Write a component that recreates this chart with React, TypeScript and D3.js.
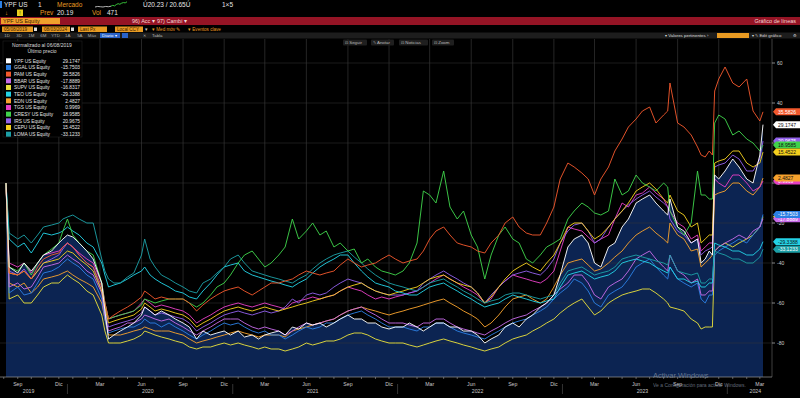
import React from 'react';
import * as d3 from 'd3';

const W = 800;
const H = 398;

// fechas comunes a todas las series (normalizado al 06/08/2019)
const dates = [
  '2019-08-06', '2019-08-13', '2019-09-01', '2019-09-15', '2019-10-01', '2019-10-15', '2019-10-28', '2019-11-15', '2019-12-01', '2019-12-10', '2019-12-20',
  '2020-01-01', '2020-01-15', '2020-02-01', '2020-02-15', '2020-03-05', '2020-03-12', '2020-03-20', '2020-04-01', '2020-04-15', '2020-05-01',
  '2020-05-15', '2020-06-01', '2020-06-08', '2020-06-20', '2020-07-01', '2020-07-15', '2020-08-01', '2020-08-15', '2020-09-01', '2020-09-15',
  '2020-10-01', '2020-10-15', '2020-11-01', '2020-11-15', '2020-12-01', '2020-12-15',
  '2021-01-01', '2021-01-15', '2021-02-01', '2021-02-15', '2021-03-01', '2021-03-15', '2021-04-01', '2021-04-15', '2021-05-01', '2021-05-15',
  '2021-06-01', '2021-06-15', '2021-07-01', '2021-07-15', '2021-08-01', '2021-08-15', '2021-09-01', '2021-09-15', '2021-10-01', '2021-10-15',
  '2021-11-01', '2021-11-15', '2021-12-01', '2021-12-15',
  '2022-01-01', '2022-01-15', '2022-02-01', '2022-02-15', '2022-03-01', '2022-03-15', '2022-04-01', '2022-04-15', '2022-05-01', '2022-05-15',
  '2022-06-01', '2022-06-15', '2022-07-01', '2022-07-15', '2022-08-01', '2022-08-15', '2022-09-01', '2022-09-15', '2022-10-01', '2022-10-15',
  '2022-11-01', '2022-11-15', '2022-12-01', '2022-12-15',
  '2023-01-01', '2023-01-15', '2023-02-01', '2023-02-15', '2023-03-01', '2023-03-15', '2023-04-01', '2023-04-15', '2023-05-01', '2023-05-15',
  '2023-06-01', '2023-06-15', '2023-07-01', '2023-07-15', '2023-08-01', '2023-08-10', '2023-08-15', '2023-09-01', '2023-09-15', '2023-10-01',
  '2023-10-15', '2023-10-23', '2023-11-01', '2023-11-10', '2023-11-17', '2023-11-22', '2023-12-01', '2023-12-15',
  '2024-01-01', '2024-01-15', '2024-02-01', '2024-02-15', '2024-03-01', '2024-03-08'
];

// una fila por año: 2019 (11), 2020 (26), 2021 (24), 2022 (24), 2023 (28), 2024 (6)
const ypf = [
  0, -42, -45, -40, -44, -40, -36, -34, -30, -28, -26,
  -27, -30, -34, -38, -50, -64, -78, -76, -74, -72, -70, -66, -62, -64, -66, -64, -66, -68, -70, -72, -78, -74, -76, -75, -74, -76,
  -74, -77, -76, -78, -76, -75, -74, -76, -72, -73, -70, -71, -70, -72, -70, -68, -66, -68, -68, -70, -70, -72, -73, -72,
  -72, -70, -72, -74, -72, -70, -70, -72, -72, -74, -74, -76, -80, -78, -76, -72, -70, -72, -68, -66, -62, -60, -56, -46,
  -32, -28, -26, -30, -40, -42, -32, -30, -22, -18, -10, -8, -6, -10, -14, -16, -8, -22, -24, -30, -28, -40, -38, -34, -36, 4, 2, 6,
  12, 8, 2, 0, 14, 29.1747
];
const ggal = [
  0, -55, -52, -56, -55, -50, -45, -44, -42, -40, -38,
  -40, -42, -46, -48, -58, -68, -75, -74, -73, -72, -72, -70, -68, -70, -70, -72, -70, -72, -74, -76, -78, -76, -74, -72, -70, -71,
  -70, -72, -74, -75, -74, -76, -76, -78, -76, -74, -72, -73, -72, -70, -70, -68, -66, -65, -64, -66, -68, -70, -72, -72,
  -72, -73, -74, -72, -72, -70, -70, -72, -74, -75, -76, -77, -78, -76, -74, -72, -70, -69, -68, -66, -64, -62, -58, -55,
  -52, -48, -50, -54, -60, -62, -56, -54, -52, -48, -42, -40, -38, -42, -46, -48, -42, -48, -50, -52, -50, -58, -60, -56, -56, -36, -34, -32,
  -30, -28, -30, -26, -22, -15.7503
];
const pam = [
  0, -45, -46, -44, -48, -42, -38, -36, -35, -32, -30,
  -32, -36, -40, -42, -52, -60, -68, -66, -64, -62, -60, -57, -54, -56, -58, -57, -58, -58, -58, -60, -64, -61, -58, -56, -54, -53,
  -52, -54, -56, -54, -52, -50, -50, -49, -48, -46, -44, -45, -46, -45, -44, -41, -38, -40, -42, -41, -40, -38, -36, -38,
  -40, -39, -38, -34, -28, -24, -22, -26, -30, -31, -32, -34, -35, -30, -26, -20, -17, -22, -25, -26, -26, -20, -12, 2,
  10, 8, 5, 2, -6, 2, 8, 16, 22, 28, 32, 36, 38, 30, 34, 36, 50, 30, 28, 24, 18, 14, 13, 16, 14, 46, 52, 58,
  50, 48, 52, 36, 31, 35.5826
];
const bbar = [
  0, -52, -50, -53, -52, -47, -42, -41, -40, -38, -36,
  -38, -40, -44, -46, -55, -66, -74, -73, -72, -70, -70, -68, -66, -67, -68, -69, -68, -70, -72, -74, -76, -74, -72, -70, -68, -68,
  -68, -70, -72, -73, -72, -73, -74, -76, -74, -72, -70, -71, -70, -69, -68, -66, -64, -63, -62, -64, -66, -68, -70, -70,
  -70, -71, -72, -70, -70, -68, -68, -70, -72, -73, -74, -75, -76, -74, -72, -70, -68, -67, -66, -64, -62, -60, -56, -53,
  -50, -46, -46, -50, -56, -58, -52, -50, -48, -44, -38, -36, -34, -38, -42, -44, -36, -44, -46, -50, -48, -56, -56, -54, -54, -34, -32, -30,
  -28, -26, -28, -24, -22, -17.8889
];
const supv = [
  0, -58, -56, -60, -60, -56, -52, -50, -50, -48, -46,
  -48, -50, -54, -56, -66, -74, -80, -80, -80, -79, -78, -76, -74, -75, -76, -77, -78, -79, -80, -82, -83, -82, -82, -81, -80, -81,
  -80, -81, -82, -83, -82, -83, -83, -84, -83, -82, -80, -81, -80, -79, -79, -78, -76, -75, -75, -76, -78, -79, -80, -80,
  -80, -81, -82, -81, -80, -79, -78, -79, -80, -81, -82, -83, -84, -83, -82, -80, -78, -77, -76, -74, -72, -70, -68, -65,
  -62, -60, -58, -62, -66, -64, -60, -58, -56, -55, -54, -53, -53, -55, -58, -60, -62, -63, -64, -68, -70, -73, -72, -72, -72, -34, -32, -30,
  -32, -30, -28, -26, -22, -16.8317
];
const teo = [
  0, -28, -32, -30, -35, -30, -25, -26, -25, -24, -22,
  -24, -26, -30, -32, -40, -46, -52, -51, -50, -48, -46, -44, -42, -46, -48, -50, -52, -54, -55, -57, -58, -54, -50, -46, -42, -41,
  -40, -44, -46, -47, -48, -49, -50, -51, -52, -50, -48, -45, -42, -40, -38, -36, -36, -40, -44, -47, -50, -51, -52, -54,
  -55, -56, -56, -54, -52, -51, -50, -52, -54, -56, -58, -60, -62, -61, -60, -58, -56, -57, -58, -59, -60, -59, -58, -52,
  -46, -45, -44, -46, -48, -47, -46, -44, -40, -39, -38, -39, -40, -42, -44, -45, -42, -48, -48, -50, -49, -52, -52, -50, -50, -30, -31, -32,
  -34, -34, -36, -36, -33, -29.3388
];
const edn = [
  0, -50, -52, -50, -55, -52, -48, -47, -46, -45, -44,
  -46, -48, -50, -52, -60, -68, -76, -76, -76, -75, -74, -73, -72, -73, -74, -74, -74, -75, -76, -78, -80, -79, -78, -77, -76, -75,
  -74, -75, -76, -77, -76, -76, -76, -77, -74, -73, -72, -71, -70, -69, -68, -66, -64, -63, -62, -63, -64, -65, -66, -65,
  -64, -63, -62, -61, -60, -59, -58, -60, -62, -64, -66, -68, -72, -70, -66, -62, -58, -57, -56, -58, -60, -58, -52, -46,
  -40, -39, -38, -41, -44, -43, -40, -37, -34, -30, -26, -24, -22, -25, -28, -30, -20, -26, -28, -34, -33, -42, -40, -38, -36, -6, -5, -4,
  0, 0, -4, -6, -2, 2.4827
];
const tgs = [
  0, -40, -42, -40, -45, -40, -36, -35, -34, -32, -30,
  -32, -35, -38, -40, -50, -60, -68, -67, -66, -65, -64, -60, -58, -60, -62, -61, -62, -63, -64, -66, -70, -68, -66, -64, -62, -61,
  -60, -61, -62, -61, -60, -61, -62, -63, -60, -59, -58, -57, -58, -57, -56, -54, -52, -53, -54, -56, -58, -57, -58, -57,
  -56, -55, -54, -52, -50, -48, -46, -48, -50, -52, -54, -56, -60, -58, -52, -49, -46, -47, -48, -49, -50, -48, -44, -34,
  -22, -23, -24, -27, -30, -28, -26, -18, -10, -12, -6, -5, -2, -5, -8, -12, -14, -20, -22, -28, -26, -34, -32, -30, -30, 2, 0, -2,
  4, 4, 0, -4, -2, 0.9969
];
const cresy = [
  0, -42, -44, -40, -46, -40, -36, -33, -30, -24, -18,
  -26, -30, -34, -36, -50, -60, -68, -67, -66, -65, -64, -61, -58, -59, -60, -59, -58, -58, -58, -60, -62, -60, -56, -52, -50, -46,
  -40, -36, -34, -38, -42, -40, -36, -32, -18, -28, -24, -20, -26, -24, -32, -30, -34, -33, -40, -38, -42, -44, -45, -46,
  -44, -40, -30, -4, -6, -10, 6, -12, -18, -14, -26, -32, -48, -36, -26, -22, -28, -30, -38, -40, -36, -32, -30, -28,
  -18, -14, -10, -12, -15, -16, -14, 2, -6, -4, 4, 0, -2, -4, 0, -2, -14, -22, -26, -20, 6, -6, -6, -8, -8, 30, 34, 32,
  24, 26, 22, 20, 16, 18.9585
];
const irs = [
  0, -44, -46, -43, -48, -44, -40, -38, -36, -33, -30,
  -32, -36, -40, -42, -54, -63, -72, -71, -70, -69, -68, -65, -62, -64, -66, -65, -66, -67, -68, -70, -74, -72, -70, -68, -66, -65,
  -64, -65, -66, -65, -64, -65, -64, -62, -58, -60, -56, -55, -56, -55, -52, -50, -48, -49, -50, -52, -54, -55, -56, -56,
  -56, -55, -54, -50, -48, -46, -44, -46, -48, -50, -52, -55, -60, -56, -52, -49, -46, -45, -44, -45, -46, -43, -38, -30,
  -24, -21, -20, -24, -30, -28, -22, -18, -14, -11, -8, -6, -4, -7, -10, -12, -18, -24, -26, -30, -28, -36, -34, -33, -32, 8, 9, 10,
  14, 12, 6, 6, 12, 20.9675
];
const cepu = [
  0, -45, -46, -44, -48, -44, -40, -39, -38, -36, -34,
  -35, -38, -41, -44, -54, -62, -70, -69, -68, -67, -66, -63, -60, -62, -64, -63, -64, -65, -66, -68, -72, -70, -68, -66, -64, -63,
  -62, -63, -64, -63, -62, -63, -64, -63, -62, -61, -60, -59, -58, -57, -56, -54, -52, -51, -50, -52, -54, -55, -56, -55,
  -54, -53, -52, -50, -48, -47, -46, -48, -50, -51, -52, -55, -60, -57, -52, -48, -44, -42, -40, -42, -44, -40, -36, -30,
  -22, -20, -20, -24, -28, -26, -22, -18, -14, -10, -4, -2, 0, -3, -8, -10, -6, -14, -16, -22, -20, -30, -28, -26, -26, 10, 11, 12,
  16, 16, 10, 8, 10, 15.4522
];
const loma = [
  0, -25, -28, -26, -30, -26, -22, -21, -20, -18, -17,
  -16, -18, -20, -20, -38, -44, -48, -50, -50, -47, -45, -36, -28, -38, -42, -46, -48, -50, -52, -54, -55, -50, -48, -45, -42, -38,
  -36, -40, -44, -45, -46, -47, -48, -49, -50, -48, -46, -43, -40, -38, -36, -35, -34, -37, -40, -43, -46, -48, -50, -51,
  -52, -53, -54, -52, -50, -49, -48, -50, -52, -54, -56, -58, -60, -59, -58, -56, -55, -55, -56, -57, -58, -57, -56, -50,
  -44, -43, -42, -44, -46, -45, -44, -42, -38, -37, -36, -37, -38, -39, -40, -41, -36, -44, -45, -46, -45, -50, -50, -48, -48, -34, -35, -36,
  -38, -38, -40, -40, -37, -33.1233
];

const tickers = ['YPF', 'GGAL', 'PAM', 'BBAR', 'SUPV', 'TEO', 'EDN', 'TGS', 'CRESY', 'IRS', 'CEPU', 'LOMA'];
const lastPrices = ['29.1747', '-15.7503', '35.5826', '-17.8889', '-16.8317', '-29.3388', '2.4827', '0.9969', '18.9585', '20.9675', '15.4522', '-33.1233'];
const colors = ['#ffffff', '#2b7fe3', '#f2582c', '#c66ae8', '#e8e03c', '#23d2e6', '#f6a22d', '#e640c4', '#3fd24b', '#9160ea', '#f3cf1e', '#1c9fa6'];
const values = [ypf, ggal, pam, bbar, supv, teo, edn, tgs, cresy, irs, cepu, loma];
// orden de dibujo de las etiquetas del eje derecho (las primeras quedan tapadas)
const tagOrder = ['SUPV', 'BBAR', 'GGAL', 'TGS', 'EDN', 'IRS', 'CRESY', 'CEPU', 'YPF', 'PAM', 'TEO', 'LOMA'];
const darkText = ['YPF', 'SUPV', 'CEPU', 'CRESY', 'TEO', 'EDN'];

const yTicks = [60, 40, 20, 0, -20, -40, -60, -80];
const monthNames = ['Ene', 'Feb', 'Mar', 'Abr', 'May', 'Jun', 'Jul', 'Ago', 'Sep', 'Oct', 'Nov', 'Dic'];
const years = ['2019', '2020', '2021', '2022', '2023', '2024'];
const yearLabelDates = ['2019-09-25', '2020-06-15', '2021-06-15', '2022-06-15', '2023-06-15', '2024-02-20'];
const yearSepDates = ['2019-12-20', '2020-12-20', '2021-12-20', '2022-12-20', '2023-12-20'];
const rangeButtons = ['1D', '3D', '1M', '6M', 'YTD', '1A', '5A', 'Máx'];
const sparkWhite = [3.0, 3.2, 3.1, 3.0, 3.2, 3.1, 3.3];
const sparkGreen = [3.3, 3.6, 3.4, 3.9, 4.2, 4.0, 4.4, 4.6, 4.5, 4.9];

const FONT = '"Liberation Sans", Arial, sans-serif';
const parse = d3.timeParse('%Y-%m-%d');

export default function App() {
  const plot = { left: 0, right: 772, top: 39, bottom: 377 };
  const dts = dates.map(d => parse(d) as Date);

  const x = d3.scaleTime()
    .domain([parse('2019-08-06') as Date, parse('2024-03-08') as Date])
    .range([6, 763]);
  const y = d3.scaleLinear().domain([0, 40]).range([183, 103]);

  const line = d3.line<number>()
    .defined((v, i) => v != null && i < dts.length)
    .x((_, i) => x(dts[i]))
    .y(v => y(v));
  const area = d3.area<number>()
    .defined((v, i) => v != null && i < dts.length)
    .x((_, i) => x(dts[i]))
    .y0(plot.bottom)
    .y1(v => y(v));

  const months = d3.timeMonths(parse('2019-08-01') as Date, parse('2024-03-31') as Date);
  const quarters = months.filter(m => m.getMonth() % 3 === 2);

  const sx1 = d3.scaleLinear().domain([0, sparkWhite.length - 1]).range([95, 111]);
  const sx2 = d3.scaleLinear().domain([0, sparkGreen.length - 1]).range([111, 127]);
  const sy = d3.scaleLinear().domain([3, 5]).range([7, 1.5]);

  const rangeX = d3.scalePoint().domain(rangeButtons).range([7, 92]);

  const seriesOrder = [4, 6, 7, 1, 3, 9, 10, 5, 11, 8, 2, 0];

  return (
    <div style={{ position: 'absolute', left: 0, top: 0, width: W, height: H, background: '#000' }}>
      <svg width={W} height={H} style={{ display: 'block', fontFamily: FONT }}>
        <defs>
          <clipPath id="plotClip">
            <rect x={plot.left} y={plot.top} width={plot.right - plot.left} height={plot.bottom - plot.top} />
          </clipPath>
        </defs>
        <rect x={0} y={0} width={W} height={H} fill="#000" />

        {/* fila 1 */}
        <rect x={0} y={1} width={2} height={7} fill="#2b7fe3" />
        <text x={4} y={7} fontSize={6.5} fill="#e6e6e6">YPF US</text>
        <text x={38} y={7} fontSize={6.5} fill="#e6e6e6">1</text>
        <text x={57} y={7} fontSize={6.5} fill="#e89a22">Mercado</text>
        <path d={d3.line<number>().x((_, i) => sx1(i)).y(v => sy(v))(sparkWhite) || ''} fill="none" stroke="#ddd" strokeWidth={0.8} />
        <path d={d3.line<number>().x((_, i) => sx2(i)).y(v => sy(v))(sparkGreen) || ''} fill="none" stroke="#37c43a" strokeWidth={1} />
        <text x={143} y={7} fontSize={6.5} fill="#e6e6e6">Ú20.23 / 20.65Ú</text>
        <text x={222} y={7} fontSize={6.5} fill="#e6e6e6">1×5</text>

        {/* fila 2 */}
        <text x={5} y={15} fontSize={6} fill="#e89a22">↓</text>
        <rect x={17} y={9.5} width={6} height={6.5} fill="#e8d21e" />
        <text x={20} y={15} fontSize={5} fill="#222" textAnchor="middle">!</text>
        <text x={40} y={15} fontSize={6.5} fill="#e89a22">Prev</text>
        <text x={57} y={15} fontSize={6.5} fill="#e6e6e6">20.19</text>
        <text x={92} y={15} fontSize={6.5} fill="#e89a22">Vol</text>
        <text x={107} y={15} fontSize={6.5} fill="#e6e6e6">471</text>

        {/* barra roja */}
        <rect x={0} y={17} width={W} height={8} fill="#951425" />
        <rect x={1} y={18} width={59} height={6} fill="#f0a02c" />
        <text x={3} y={23} fontSize={5.5} fill="#3a2000">YPF US Equity</text>
        <text x={132} y={23} fontSize={5.5} fill="#f3d6d6">96) Acc ▾</text>
        <text x={157} y={23} fontSize={5.5} fill="#f3d6d6">97) Cambi ▾</text>
        <text x={796} y={23} fontSize={5.5} fill="#f3d6d6" textAnchor="end">Gráfico de líneas</text>

        {/* fila de opciones */}
        <rect x={2} y={26.5} width={31} height={5.5} fill="#e89a22" />
        <text x={4} y={31} fontSize={4.6} fill="#3a2000">05/08/2019</text>
        <rect x={34} y={27.5} width={3} height={3.5} fill="#ddd" />
        <rect x={42} y={26.5} width={28} height={5.5} fill="#e89a22" />
        <text x={44} y={31} fontSize={4.6} fill="#3a2000">08/03/2024</text>
        <rect x={71} y={27.5} width={3} height={3.5} fill="#ddd" />
        <rect x={78} y={26.5} width={29} height={5.5} fill="#e89a22" />
        <text x={80} y={31} fontSize={4.6} fill="#3a2000">Last Px</text>
        <rect x={115} y={26.5} width={28} height={5.5} fill="#e89a22" />
        <text x={117} y={31} fontSize={4.6} fill="#3a2000">Local CCY</text>
        <text x={145} y={31} fontSize={4.6} fill="#ccc">▾</text>
        <text x={152} y={31} fontSize={4.6} fill="#e89a22">▾ Med móv ✎</text>
        <text x={188} y={31} fontSize={4.6} fill="#e89a22">▾ Eventos clave</text>

        {/* barra gris */}
        <rect x={0} y={32.5} width={W} height={6} fill="#1d1d1d" />
        {rangeButtons.map(b => (
          <text key={b} x={rangeX(b)} y={37.3} fontSize={4.4} fill="#aaa" textAnchor="middle">{b}</text>
        ))}
        <rect x={100} y={33} width={20} height={5} fill="#2a63c8" />
        <text x={102} y={37.2} fontSize={4.4} fill="#fff">Diario ▾</text>
        <rect x={122} y={33} width={6} height={5} fill="#2a63c8" />
        <text x={143} y={37.3} fontSize={4.4} fill="#aaa">✕</text>
        <text x={152} y={37.3} fontSize={4.4} fill="#bbb">Tabla</text>
        <text x={665} y={37.3} fontSize={4.4} fill="#ddd">▾ Valores pertinentes ›</text>
        <rect x={717} y={33} width={32} height={5} fill="#e89a22" />
        <text x={752} y={37.3} fontSize={4.4} fill="#ddd">▾ ✎ Edit gráfico</text>
        <text x={793} y={37.3} fontSize={4.4} fill="#ddd">⚙</text>

        {/* área del gráfico */}
        <g clipPath="url(#plotClip)">
          {quarters.map((q, i) => (
            <line key={'vg' + i} x1={x(q)} x2={x(q)} y1={plot.top} y2={plot.bottom} stroke="#2e2e2e" strokeWidth={0.8} />
          ))}
          <path d={area(ypf) || ''} fill="#0c2452" />
          {yTicks.map(t => (
            <line key={'hg' + t} x1={plot.left} x2={plot.right} y1={y(t)} y2={y(t)} stroke="#3a3a3a" strokeWidth={0.6} opacity={0.8} />
          ))}
          {seriesOrder.map(si => (
            <path key={tickers[si]} d={line(values[si]) || ''} fill="none" stroke={colors[si]}
              strokeWidth={1} strokeLinejoin="round" opacity={0.92} />
          ))}
        </g>

        {/* botones de la parte superior del gráfico */}
        {[['⊡ Seguir', 343, 24], ['✎ Anotar', 371, 23], ['⊡ Noticias', 399, 29], ['⊡ Zoom', 432, 22]].map(([t, bx, bw]) => (
          <g key={t as string}>
            <rect x={bx as number} y={39.5} width={bw as number} height={6} rx={1} fill="#1f1f1f" />
            <text x={(bx as number) + 2} y={44.3} fontSize={4.4} fill="#bbb">{t}</text>
          </g>
        ))}

        {/* leyenda */}
        <rect x={3} y={41} width={79} height={96} fill="#000" stroke="#262626" strokeWidth={0.5} />
        <text x={42} y={47} fontSize={5} fill="#ddd" textAnchor="middle">Normalizado al 06/08/2019</text>
        <text x={42} y={53} fontSize={5} fill="#ddd" textAnchor="middle">Último precio</text>
        {tickers.map((tk, i) => {
          const ry = 60.7 + i * 6.67;
          return (
            <g key={'lg' + tk}>
              <rect x={6} y={ry - 2.4} width={5} height={5} fill={colors[i]} />
              <text x={14} y={ry + 1.8} fontSize={4.8} fill="#e6e6e6">{tk} US Equity</text>
              <text x={80} y={ry + 1.8} fontSize={4.8} fill="#e6e6e6" textAnchor="end">{lastPrices[i]}</text>
            </g>
          );
        })}

        {/* eje derecho */}
        <line x1={plot.right} x2={plot.right} y1={plot.top} y2={plot.bottom} stroke="#5a5a5a" strokeWidth={0.7} />
        {yTicks.map(t => (
          <g key={'yt' + t}>
            <line x1={plot.right} x2={plot.right + 3} y1={y(t)} y2={y(t)} stroke="#bbb" strokeWidth={0.7} />
            <text x={plot.right + 5} y={y(t) + 1.8} fontSize={5} fill="#cfcfcf">{t}</text>
          </g>
        ))}
        {tagOrder.map(tk => {
          const i = tickers.indexOf(tk);
          const vy = y(values[i][values[i].length - 1]);
          return (
            <g key={'tag' + tk}>
              <path d={`M${plot.right + 1},${vy} L${plot.right + 4},${vy - 3.5} L${W},${vy - 3.5} L${W},${vy + 3.5} L${plot.right + 4},${vy + 3.5} Z`}
                fill={colors[i]} />
              <text x={plot.right + 6} y={vy + 1.9} fontSize={5} fill={darkText.includes(tk) ? '#111' : '#fff'}>{lastPrices[i]}</text>
            </g>
          );
        })}

        {/* eje inferior */}
        <line x1={plot.left} x2={plot.right} y1={plot.bottom} y2={plot.bottom} stroke="#9a9a9a" strokeWidth={0.7} />
        {months.map((m, i) => (
          <line key={'mt' + i} x1={x(m)} x2={x(m)} y1={plot.bottom} y2={plot.bottom + 2} stroke="#9a9a9a" strokeWidth={0.6} />
        ))}
        {quarters.map((q, i) => (
          <text key={'ql' + i} x={x(q)} y={386} fontSize={5.2} fill="#c8c8c8" textAnchor="middle">{monthNames[q.getMonth()]}</text>
        ))}
        {years.map((yr, i) => (
          <text key={'yl' + yr} x={x(parse(yearLabelDates[i]) as Date)} y={392.5} fontSize={5.2} fill="#c8c8c8" textAnchor="middle">{yr}</text>
        ))}
        {yearSepDates.map(d => {
          const sx = x(parse(d) as Date);
          return <line key={'ys' + d} x1={sx} x2={sx} y1={384} y2={394} stroke="#555" strokeWidth={0.6} />;
        })}

        {/* marca de agua */}
        <text x={653} y={378} fontSize={7.5} fill="#8a97a8" opacity={0.7}>Activar Windows</text>
        <text x={653} y={386.5} fontSize={5} fill="#8a97a8" opacity={0.7}>Ve a Configuración para activar Windows.</text>
      </svg>
    </div>
  );
}
